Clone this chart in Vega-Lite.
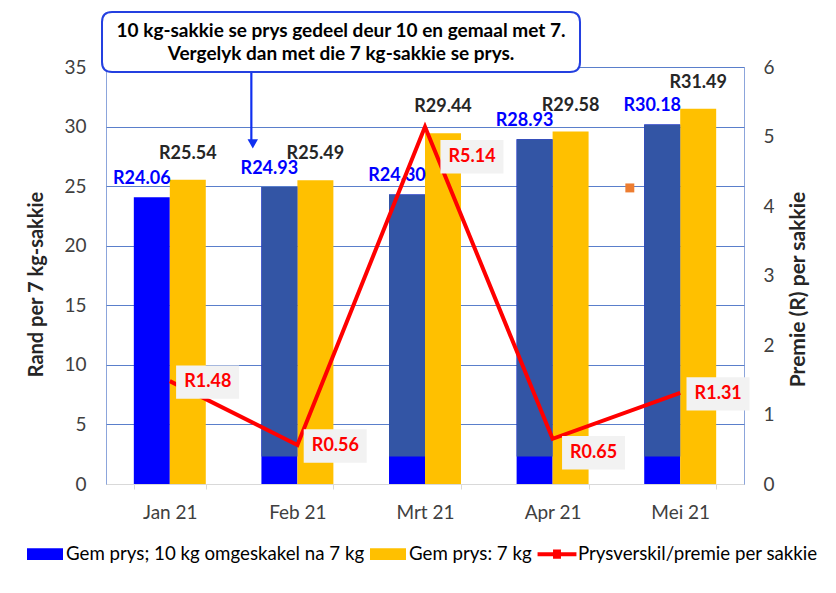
{
  "$schema": "https://vega.github.io/schema/vega-lite/v6.json",
  "width": 638,
  "height": 417,
  "autosize": {"type": "none"},
  "padding": {"left": 106, "top": 67, "right": 92, "bottom": 109},
  "background": "white",
  "config": {
    "font": "Lato",
    "view": {"stroke": "#8CA5DB", "strokeWidth": 1},
    "axis": {
      "labelFont": "Lato",
      "labelFontSize": 19,
      "labelColor": "#404040",
      "titleFont": "Lato",
      "titleFontSize": 20,
      "titleFontWeight": "bold",
      "titleColor": "#262626"
    }
  },
  "datasets": {
    "bars": [
      {"month": "Jan 21", "series": "Gem prys; 10 kg omgeskakel na 7 kg", "value": 24.06, "label": "R24.06"},
      {"month": "Feb 21", "series": "Gem prys; 10 kg omgeskakel na 7 kg", "value": 24.93, "label": "R24.93"},
      {"month": "Mrt 21", "series": "Gem prys; 10 kg omgeskakel na 7 kg", "value": 24.30, "label": "R24.30"},
      {"month": "Apr 21", "series": "Gem prys; 10 kg omgeskakel na 7 kg", "value": 28.93, "label": "R28.93"},
      {"month": "Mei 21", "series": "Gem prys; 10 kg omgeskakel na 7 kg", "value": 30.18, "label": "R30.18"},
      {"month": "Jan 21", "series": "Gem prys: 7 kg", "value": 25.54, "label": "R25.54"},
      {"month": "Feb 21", "series": "Gem prys: 7 kg", "value": 25.49, "label": "R25.49"},
      {"month": "Mrt 21", "series": "Gem prys: 7 kg", "value": 29.44, "label": "R29.44"},
      {"month": "Apr 21", "series": "Gem prys: 7 kg", "value": 29.58, "label": "R29.58"},
      {"month": "Mei 21", "series": "Gem prys: 7 kg", "value": 31.49, "label": "R31.49"}
    ],
    "premie": [
      {"month": "Jan 21", "premie": 1.48, "label": "R1.48"},
      {"month": "Feb 21", "premie": 0.56, "label": "R0.56"},
      {"month": "Mrt 21", "premie": 5.14, "label": "R5.14"},
      {"month": "Apr 21", "premie": 0.65, "label": "R0.65"},
      {"month": "Mei 21", "premie": 1.31, "label": "R1.31"}
    ],
    "note": [{"kind": "callout"}]
  },
  "layer": [
    {
      "layer": [
        {
          "data": {"name": "bars"},
          "mark": {"type": "bar"},
          "encoding": {
            "x": {
              "field": "month", "type": "nominal",
              "sort": ["Jan 21", "Feb 21", "Mrt 21", "Apr 21", "Mei 21"],
              "scale": {"paddingInner": 0.436, "paddingOuter": 0.218},
              "axis": {
                "title": null, "labelAngle": 0, "tickBand": "extent",
                "domainColor": "#D9D9D9", "tickColor": "#D9D9D9", "tickSize": 5,
                "labelPadding": 14, "grid": false
              }
            },
            "xOffset": {
              "field": "series", "type": "nominal",
              "sort": ["Gem prys; 10 kg omgeskakel na 7 kg", "Gem prys: 7 kg"]
            },
            "y": {
              "field": "value", "type": "quantitative",
              "scale": {"domain": [0, 35], "nice": false},
              "axis": {
                "title": "Rand per 7 kg-sakkie", "values": [0, 5, 10, 15, 20, 25, 30, 35],
                "domain": false, "ticks": false, "labelPadding": 20, "titlePadding": 17, "titleY": 217,
                "grid": true, "gridColor": "#5A7FCB", "gridWidth": 1
              }
            },
            "color": {
              "field": "series", "type": "nominal",
              "scale": {
                "domain": ["Gem prys; 10 kg omgeskakel na 7 kg", "Gem prys: 7 kg", "Prysverskil/premie per sakkie"],
                "range": ["#0000FF", "#FFC000", "#FF0000"]
              },
              "legend": {
                "title": null, "orient": "none", "legendX": -79, "legendY": 469,
                "direction": "horizontal", "columns": 3, "columnPadding": 5,
                "labelFont": "Lato", "labelFontSize": 18.7, "labelColor": "#000000", "labelLimit": 500,
                "labelOffset": 3, "symbolSize": 1296, "symbolType": "M-1,-0.33H1V0.33H-1Z",
                "symbolStrokeWidth": 0,
                "encode": {
                  "symbols": {
                    "update": {
                      "shape": {"signal": "datum.value === 'Prysverskil/premie per sakkie' ? 'M-1.08,-0.11H1.08V0.11H-1.08Z M-0.22,-0.26H0.22V0.26H-0.22Z' : 'M-1,-0.33H1V0.33H-1Z'"}
                    }
                  }
                }
              }
            }
          }
        },
        {
          "data": {"name": "bars"},
          "transform": [{"filter": "datum.series === 'Gem prys; 10 kg omgeskakel na 7 kg' && datum.month !== 'Jan 21'"}],
          "mark": {"type": "bar", "color": "#3355A5"},
          "encoding": {
            "x": {"field": "month", "type": "nominal", "sort": ["Jan 21", "Feb 21", "Mrt 21", "Apr 21", "Mei 21"]},
            "xOffset": {"field": "series", "type": "nominal", "sort": ["Gem prys; 10 kg omgeskakel na 7 kg", "Gem prys: 7 kg"]},
            "y": {"field": "value", "type": "quantitative", "scale": {"domain": [0, 35], "nice": false}},
            "y2": {"datum": 2.3}
          }
        },
        {
          "data": {"name": "bars"},
          "transform": [{"filter": "datum.series === 'Gem prys; 10 kg omgeskakel na 7 kg'"}],
          "mark": {"type": "text", "font": "Lato", "fontSize": 18, "fontWeight": "bold", "color": "#0000FF", "dx": -10, "dy": -18, "baseline": "middle"},
          "encoding": {
            "x": {"field": "month", "type": "nominal", "sort": ["Jan 21", "Feb 21", "Mrt 21", "Apr 21", "Mei 21"]},
            "xOffset": {"field": "series", "type": "nominal", "sort": ["Gem prys; 10 kg omgeskakel na 7 kg", "Gem prys: 7 kg"]},
            "y": {"field": "value", "type": "quantitative", "scale": {"domain": [0, 35], "nice": false}},
            "text": {"field": "label"}
          }
        },
        {
          "data": {"name": "bars"},
          "transform": [{"filter": "datum.series === 'Gem prys: 7 kg'"}],
          "mark": {"type": "text", "font": "Lato", "fontSize": 18, "fontWeight": "bold", "color": "#262626", "dy": -26, "baseline": "middle"},
          "encoding": {
            "x": {"field": "month", "type": "nominal", "sort": ["Jan 21", "Feb 21", "Mrt 21", "Apr 21", "Mei 21"]},
            "xOffset": {"field": "series", "type": "nominal", "sort": ["Gem prys; 10 kg omgeskakel na 7 kg", "Gem prys: 7 kg"]},
            "y": {"field": "value", "type": "quantitative", "scale": {"domain": [0, 35], "nice": false}},
            "text": {"field": "label"}
          }
        },
        {
          "data": {"name": "note"},
          "mark": {"type": "rule", "color": "#1030F0", "strokeWidth": 2.2},
          "encoding": {
            "x": {"datum": "Feb 21", "type": "nominal", "bandPosition": -0.14},
            "y": {"datum": 34.6, "type": "quantitative", "scale": {"domain": [0, 35], "nice": false}},
            "y2": {"datum": 28.8}
          }
        },
        {
          "data": {"name": "note"},
          "mark": {"type": "point", "shape": "triangle-down", "filled": true, "color": "#1030F0", "size": 110, "opacity": 1},
          "encoding": {
            "x": {"datum": "Feb 21", "type": "nominal", "bandPosition": -0.12},
            "y": {"datum": 28.55, "type": "quantitative", "scale": {"domain": [0, 35], "nice": false}}
          }
        },
        {
          "data": {"name": "note"},
          "mark": {
            "type": "point", "filled": true, "fill": "#FFFFFF", "stroke": "#2440E0", "strokeWidth": 2, "opacity": 1,
            "size": 228484,
            "shape": "M-0.958,-0.1255L0.958,-0.1255Q1,-0.1255 1,-0.0835L1,0.0835Q1,0.1255 0.958,0.1255L-0.958,0.1255Q-1,0.1255 -1,0.0835L-1,-0.0835Q-1,-0.1255 -0.958,-0.1255Z"
          },
          "encoding": {
            "x": {"datum": "Feb 21", "type": "nominal", "bandPosition": 1.106},
            "y": {"datum": 37.1, "type": "quantitative", "scale": {"domain": [0, 35], "nice": false}}
          }
        },
        {
          "data": {"name": "note"},
          "mark": {"type": "text", "font": "Lato", "fontSize": 19, "fontWeight": "bold", "color": "#000000", "align": "center", "baseline": "middle", "lineHeight": 23, "dy": -11},
          "encoding": {
            "x": {"datum": "Feb 21", "type": "nominal", "bandPosition": 1.106},
            "y": {"datum": 37.1, "type": "quantitative", "scale": {"domain": [0, 35], "nice": false}},
            "text": {"value": ["10 kg-sakkie se prys gedeel deur 10 en gemaal met 7.", "Vergelyk dan met die 7 kg-sakkie se prys."]}
          }
        },
        {
          "data": {"name": "note"},
          "mark": {"type": "point", "shape": "square", "filled": true, "color": "#ED7D31", "size": 80, "opacity": 1},
          "encoding": {
            "x": {"datum": "Mei 21", "type": "nominal", "bandPosition": -0.2},
            "y": {"datum": 24.85, "type": "quantitative", "scale": {"domain": [0, 35], "nice": false}}
          }
        }
      ]
    },
    {
      "layer": [
        {
          "data": {"name": "premie"},
          "mark": {"type": "line", "color": "#FF0000", "strokeWidth": 4},
          "encoding": {
            "x": {"field": "month", "type": "nominal", "sort": ["Jan 21", "Feb 21", "Mrt 21", "Apr 21", "Mei 21"]},
            "y": {
              "field": "premie", "type": "quantitative",
              "scale": {"domain": [0, 6], "nice": false},
              "axis": {
                "orient": "right", "title": "Premie (R) per sakkie", "titleAngle": 270, "titleFontSize": 21,
                "values": [0, 1, 2, 3, 4, 5, 6], "format": "d", "domain": false, "ticks": false, "grid": false,
                "labelPadding": 19, "titlePadding": 34, "titleY": 222
              }
            }
          }
        },
        {
          "data": {"name": "premie"},
          "transform": [{"filter": "datum.month === 'Jan 21' || datum.month === 'Feb 21' || datum.month === 'Mei 21'"}],
          "mark": {"type": "point", "filled": true, "fill": "#F2F2F2", "strokeWidth": 0, "opacity": 1, "size": 3969, "shape": "M0.20,-0.50H2.20V0.56H0.20Z"},
          "encoding": {
            "x": {"field": "month", "type": "nominal", "sort": ["Jan 21", "Feb 21", "Mrt 21", "Apr 21", "Mei 21"]},
            "y": {"field": "premie", "type": "quantitative", "scale": {"domain": [0, 6], "nice": false}}
          }
        },
        {
          "data": {"name": "premie"},
          "transform": [{"filter": "datum.month === 'Jan 21' || datum.month === 'Feb 21' || datum.month === 'Mei 21'"}],
          "mark": {"type": "text", "font": "Lato", "fontSize": 18, "fontWeight": "bold", "color": "#FF0000", "dx": 38, "dy": 1, "baseline": "middle"},
          "encoding": {
            "x": {"field": "month", "type": "nominal", "sort": ["Jan 21", "Feb 21", "Mrt 21", "Apr 21", "Mei 21"]},
            "y": {"field": "premie", "type": "quantitative", "scale": {"domain": [0, 6], "nice": false}},
            "text": {"field": "label"}
          }
        },
        {
          "data": {"name": "premie"},
          "transform": [{"filter": "datum.month === 'Mrt 21'"}],
          "mark": {"type": "point", "filled": true, "fill": "#F2F2F2", "strokeWidth": 0, "opacity": 1, "size": 3969, "shape": "M0.49,0.42H2.49V1.48H0.49Z"},
          "encoding": {
            "x": {"field": "month", "type": "nominal", "sort": ["Jan 21", "Feb 21", "Mrt 21", "Apr 21", "Mei 21"]},
            "y": {"field": "premie", "type": "quantitative", "scale": {"domain": [0, 6], "nice": false}}
          }
        },
        {
          "data": {"name": "premie"},
          "transform": [{"filter": "datum.month === 'Mrt 21'"}],
          "mark": {"type": "text", "font": "Lato", "fontSize": 18, "fontWeight": "bold", "color": "#FF0000", "dx": 47, "dy": 30, "baseline": "middle"},
          "encoding": {
            "x": {"field": "month", "type": "nominal", "sort": ["Jan 21", "Feb 21", "Mrt 21", "Apr 21", "Mei 21"]},
            "y": {"field": "premie", "type": "quantitative", "scale": {"domain": [0, 6], "nice": false}},
            "text": {"field": "label"}
          }
        },
        {
          "data": {"name": "premie"},
          "transform": [{"filter": "datum.month === 'Apr 21'"}],
          "mark": {"type": "point", "filled": true, "fill": "#F2F2F2", "strokeWidth": 0, "opacity": 1, "size": 3969, "shape": "M0.30,-0.09H2.30V0.97H0.30Z"},
          "encoding": {
            "x": {"field": "month", "type": "nominal", "sort": ["Jan 21", "Feb 21", "Mrt 21", "Apr 21", "Mei 21"]},
            "y": {"field": "premie", "type": "quantitative", "scale": {"domain": [0, 6], "nice": false}}
          }
        },
        {
          "data": {"name": "premie"},
          "transform": [{"filter": "datum.month === 'Apr 21'"}],
          "mark": {"type": "text", "font": "Lato", "fontSize": 18, "fontWeight": "bold", "color": "#FF0000", "dx": 41, "dy": 14, "baseline": "middle"},
          "encoding": {
            "x": {"field": "month", "type": "nominal", "sort": ["Jan 21", "Feb 21", "Mrt 21", "Apr 21", "Mei 21"]},
            "y": {"field": "premie", "type": "quantitative", "scale": {"domain": [0, 6], "nice": false}},
            "text": {"field": "label"}
          }
        }
      ]
    }
  ],
  "resolve": {"scale": {"y": "independent"}}
}
